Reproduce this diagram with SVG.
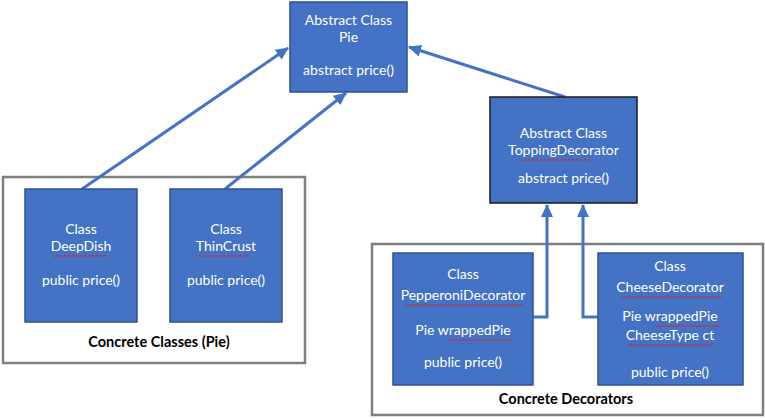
<svg xmlns="http://www.w3.org/2000/svg" width="765" height="419" viewBox="0 0 765 419">
<defs>
<style>
.box{fill:#4472C4;stroke:#2F528F;stroke-width:1.5}
.boxd{fill:#4472C4;stroke:#1a1a1a;stroke-width:1.5}
.cont{fill:none;stroke:#7F7F7F;stroke-width:2.5}
.t{font-family:Lato,"Liberation Sans",sans-serif;font-size:14px;fill:#fff;text-anchor:middle}
.lbl{font-family:Lato,"Liberation Sans",sans-serif;font-size:14.5px;font-weight:bold;fill:#000;text-anchor:middle}
.con{fill:none;stroke:#4472C4;stroke-width:3}
.sq{fill:none;stroke:#E02020;stroke-width:0.8}
</style>
<marker id="ah" markerUnits="userSpaceOnUse" markerWidth="14" markerHeight="14" viewBox="0 0 14 14" refX="12" refY="7" orient="auto">
<path d="M0,1 L13,7 L0,13 Z" fill="#4472C4"/>
</marker>
</defs>
<rect width="765" height="419" fill="#fff"/>

<g id="containers">
<rect class="cont" x="3" y="177" width="302" height="186"/>
<rect class="cont" x="372" y="244" width="391" height="171"/>
<text class="lbl" x="159" y="347">Concrete Classes (Pie)</text>
<text class="lbl" x="566" y="404">Concrete Decorators</text>
</g>

<g id="connectors">
<line class="con" x1="82" y1="189" x2="288" y2="48" marker-end="url(#ah)"/>
<line class="con" x1="225" y1="189" x2="346" y2="93" marker-end="url(#ah)"/>
<line class="con" x1="565" y1="97" x2="409" y2="47" marker-end="url(#ah)"/>
<polyline class="con" points="533,317 547,317 547,205" marker-end="url(#ah)"/>
<polyline class="con" points="598,317 583,317 583,205" marker-end="url(#ah)"/>
</g>

<g id="pie">
<rect class="box" x="290" y="2" width="117" height="90"/>
<text class="t" x="348.5" y="25">Abstract Class</text>
<text class="t" x="348.5" y="42">Pie</text>
<text class="t" x="348.5" y="75">abstract price()</text>
</g>

<g id="topping">
<rect class="boxd" x="490" y="97" width="147" height="106"/>
<text class="t" x="563.5" y="138">Abstract Class</text>
<text class="t" x="563.5" y="155">ToppingDecorator</text>
<path class="sq" d="M521,159 l2,2 l2,-2 l2,2 l2,-2 l2,2 l2,-2 l2,2 l2,-2 l2,2 l2,-2 l2,2 l2,-2 l2,2 l2,-2 l2,2 l2,-2 l2,2 l2,-2 l2,2 l2,-2 l2,2 l2,-2 l2,2 l2,-2 l2,2 l2,-2 l2,2 l2,-2 l2,2 l2,-2 l2,2 l2,-2 l2,2 l2,-2 l2,2"/>
<text class="t" x="563.5" y="183">abstract price()</text>
</g>

<g id="deepdish">
<rect class="box" x="25" y="189" width="112" height="133"/>
<text class="t" x="81" y="234">Class</text>
<text class="t" x="81" y="251">DeepDish</text>
<path class="sq" d="M53,255 l2,2 l2,-2 l2,2 l2,-2 l2,2 l2,-2 l2,2 l2,-2 l2,2 l2,-2 l2,2 l2,-2 l2,2 l2,-2 l2,2 l2,-2 l2,2 l2,-2 l2,2 l2,-2 l2,2 l2,-2 l2,2 l2,-2 l2,2 l2,-2 l2,2"/>
<text class="t" x="81" y="285">public price()</text>
</g>

<g id="thincrust">
<rect class="box" x="170" y="189" width="112" height="133"/>
<text class="t" x="226" y="234">Class</text>
<text class="t" x="226" y="251">ThinCrust</text>
<path class="sq" d="M196,255 l2,2 l2,-2 l2,2 l2,-2 l2,2 l2,-2 l2,2 l2,-2 l2,2 l2,-2 l2,2 l2,-2 l2,2 l2,-2 l2,2 l2,-2 l2,2 l2,-2 l2,2 l2,-2 l2,2 l2,-2 l2,2 l2,-2 l2,2 l2,-2 l2,2"/>
<text class="t" x="226" y="285">public price()</text>
</g>

<g id="pepperoni">
<rect class="box" x="393" y="253" width="140" height="132"/>
<text class="t" x="463" y="279">Class</text>
<text class="t" x="463" y="300">PepperoniDecorator</text>
<path class="sq" d="M405,304 l2,2 l2,-2 l2,2 l2,-2 l2,2 l2,-2 l2,2 l2,-2 l2,2 l2,-2 l2,2 l2,-2 l2,2 l2,-2 l2,2 l2,-2 l2,2 l2,-2 l2,2 l2,-2 l2,2 l2,-2 l2,2 l2,-2 l2,2 l2,-2 l2,2 l2,-2 l2,2 l2,-2 l2,2 l2,-2 l2,2 l2,-2 l2,2 l2,-2 l2,2 l2,-2 l2,2 l2,-2 l2,2 l2,-2 l2,2 l2,-2 l2,2 l2,-2 l2,2 l2,-2 l2,2 l2,-2 l2,2 l2,-2 l2,2 l2,-2 l2,2 l2,-2 l2,2 l2,-2 l2,2"/>
<text class="t" x="463" y="335">Pie wrappedPie</text>
<path class="sq" d="M448,339 l2,2 l2,-2 l2,2 l2,-2 l2,2 l2,-2 l2,2 l2,-2 l2,2 l2,-2 l2,2 l2,-2 l2,2 l2,-2 l2,2 l2,-2 l2,2 l2,-2 l2,2 l2,-2 l2,2 l2,-2 l2,2 l2,-2 l2,2 l2,-2 l2,2 l2,-2 l2,2 l2,-2 l2,2 l2,-2 l2,2"/>
<text class="t" x="463" y="367">public price()</text>
</g>

<g id="cheese">
<rect class="box" x="598" y="253" width="145" height="132"/>
<text class="t" x="670" y="271">Class</text>
<text class="t" x="670" y="292">CheeseDecorator</text>
<path class="sq" d="M620,296 l2,2 l2,-2 l2,2 l2,-2 l2,2 l2,-2 l2,2 l2,-2 l2,2 l2,-2 l2,2 l2,-2 l2,2 l2,-2 l2,2 l2,-2 l2,2 l2,-2 l2,2 l2,-2 l2,2 l2,-2 l2,2 l2,-2 l2,2 l2,-2 l2,2 l2,-2 l2,2 l2,-2 l2,2 l2,-2 l2,2 l2,-2 l2,2 l2,-2 l2,2 l2,-2 l2,2 l2,-2 l2,2 l2,-2 l2,2 l2,-2 l2,2 l2,-2 l2,2 l2,-2 l2,2 l2,-2 l2,2"/>
<text class="t" x="670" y="321">Pie wrappedPie</text>
<path class="sq" d="M655,325 l2,2 l2,-2 l2,2 l2,-2 l2,2 l2,-2 l2,2 l2,-2 l2,2 l2,-2 l2,2 l2,-2 l2,2 l2,-2 l2,2 l2,-2 l2,2 l2,-2 l2,2 l2,-2 l2,2 l2,-2 l2,2 l2,-2 l2,2 l2,-2 l2,2 l2,-2 l2,2 l2,-2 l2,2 l2,-2 l2,2"/>
<text class="t" x="670" y="340">CheeseType ct</text>
<path class="sq" d="M627,344 l2,2 l2,-2 l2,2 l2,-2 l2,2 l2,-2 l2,2 l2,-2 l2,2 l2,-2 l2,2 l2,-2 l2,2 l2,-2 l2,2 l2,-2 l2,2 l2,-2 l2,2 l2,-2 l2,2 l2,-2 l2,2 l2,-2 l2,2 l2,-2 l2,2 l2,-2 l2,2 l2,-2 l2,2 l2,-2 l2,2 l2,-2 l2,2 l2,-2 l2,2 l2,-2 l2,2 l2,-2 l2,2 l2,-2 l2,2"/>
<text class="t" x="670" y="377">public price()</text>
</g>
</svg>
